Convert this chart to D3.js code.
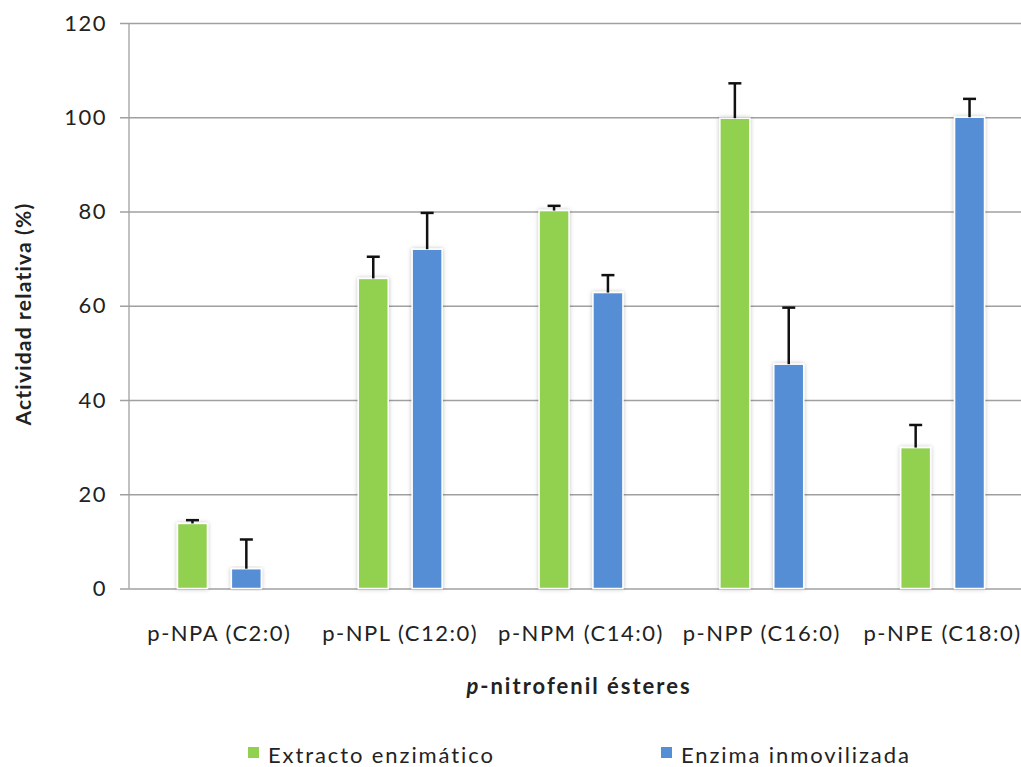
<!DOCTYPE html>
<html>
<head>
<meta charset="utf-8">
<script src="https://cdn.jsdelivr.net/npm/d3@7"></script>
<style>
  body { margin: 0; background: #fff; }
  text { font-family: Lato, "Open Sans", sans-serif; fill: #222; }
</style>
</head>
<body>
<svg id="chart" width="1021" height="767"></svg>
<script>
// data
var categories = ["p-NPA (C2:0)", "p-NPL (C12:0)", "p-NPM (C14:0)", "p-NPP (C16:0)", "p-NPE (C18:0)"];
var seriesNames = ["Extracto enzimático", "Enzima inmovilizada"];
var extracto = [13.8, 65.8, 80.2, 99.8, 29.9];
var extractoErr = [0.7, 4.6, 1.0, 7.4, 4.8];
var inmovilizada = [4.2, 72.0, 62.8, 47.6, 100];
var inmovilizadaErr = [6.2, 7.7, 3.7, 12.0, 3.9];
var yTicks = [0, 20, 40, 60, 80, 100, 120];
var colors = ["#92d050", "#558ed5"];

var svg = d3.select("#chart");
var mLeft = 129, mRight = 1033, mTop = 23, mBottom = 588.5;

var defs = svg.append("defs");
var f = defs.append("filter").attr("id", "shadow")
    .attr("x", "-30%").attr("y", "-10%").attr("width", "160%").attr("height", "120%");
f.append("feDropShadow").attr("dx", 0).attr("dy", 0).attr("stdDeviation", 2)
    .attr("flood-color", "#000").attr("flood-opacity", 0.25);

var y = d3.scaleLinear().domain([0, 120]).range([mBottom, mTop]);
var x0 = d3.scaleBand().domain(categories).range([mLeft, mRight]);
var x1 = d3.scaleBand().domain(seriesNames).range([0, x0.bandwidth()])
    .paddingInner(0.444).paddingOuter(0.9);

// grid + y axis
var yAxis = svg.append("g")
    .attr("transform", "translate(" + mLeft + ",0)")
    .call(d3.axisLeft(y).tickValues(yTicks).tickSize(-(mRight - mLeft)).tickPadding(22));
yAxis.select(".domain").remove();
yAxis.selectAll(".tick line").attr("x1", -9).attr("stroke", "#a0a0a0").attr("stroke-width", 1.3);
yAxis.selectAll(".tick text").style("font-size", "22px").style("letter-spacing", "1.5px").attr("fill", "#222");

svg.append("line").attr("x1", mLeft).attr("x2", mLeft).attr("y1", mTop).attr("y2", mBottom)
    .attr("stroke", "#a0a0a0").attr("stroke-width", 1.3);

var rows = categories.map(function(c, i) {
  return [
    { cat: c, s: seriesNames[0], v: extracto[i], e: extractoErr[i], col: colors[0] },
    { cat: c, s: seriesNames[1], v: inmovilizada[i], e: inmovilizadaErr[i], col: colors[1] }
  ];
});
var flat = [].concat.apply([], rows);

svg.append("g").selectAll("rect").data(flat).enter().append("rect")
    .attr("x", function(d) { return x0(d.cat) + x1(d.s); })
    .attr("y", function(d) { return y(d.v); })
    .attr("width", x1.bandwidth())
    .attr("height", function(d) { return mBottom - y(d.v); })
    .attr("fill", function(d) { return d.col; })
    .attr("stroke", "#fff").attr("stroke-width", 1.5)
    .attr("filter", "url(#shadow)");

// error bars (upper only)
function cx(d) { return x0(d.cat) + x1(d.s) + x1.bandwidth() / 2; }
var eb = svg.append("g").selectAll("g").data(flat).enter().append("g");
eb.append("line")
    .attr("x1", cx).attr("x2", cx)
    .attr("y1", function(d) { return y(d.v); })
    .attr("y2", function(d) { return y(d.v + d.e); })
    .attr("stroke", "#111").attr("stroke-width", 2.5);
eb.append("line")
    .attr("x1", function(d) { return cx(d) - 6.5; })
    .attr("x2", function(d) { return cx(d) + 6.5; })
    .attr("y1", function(d) { return y(d.v + d.e); })
    .attr("y2", function(d) { return y(d.v + d.e); })
    .attr("stroke", "#111").attr("stroke-width", 2.5);

// category labels
svg.append("g").selectAll("text").data(categories).enter().append("text")
    .attr("x", function(d) { return x0(d) + x0.bandwidth() / 2; })
    .attr("y", 641)
    .attr("text-anchor", "middle")
    .style("font-size", "22px").style("letter-spacing", "1.5px")
    .text(function(d) { return d; });

// axis titles
svg.append("text")
    .attr("transform", "translate(31,314) rotate(-90)")
    .attr("text-anchor", "middle")
    .style("font-size", "21px").style("font-weight", "bold").style("letter-spacing", "1.2px")
    .text("Actividad relativa (%)");

var xt = svg.append("text").attr("x", 579).attr("y", 694).attr("text-anchor", "middle")
    .style("font-size", "22px").style("font-weight", "bold").style("letter-spacing", "2px");
xt.append("tspan").style("font-style", "italic").text("p");
xt.append("tspan").text("-nitrofenil ésteres");

// legend
var legX = [248, 661];
var leg = svg.append("g").selectAll("g").data(seriesNames).enter().append("g")
    .attr("transform", function(d, i) { return "translate(" + legX[i] + ",747)"; });
leg.append("rect").attr("width", 11).attr("height", 11)
    .attr("fill", function(d, i) { return colors[i]; });
leg.append("text").attr("x", 20).attr("y", 16)
    .style("font-size", "22px").style("letter-spacing", "1.9px")
    .text(function(d) { return d; });
</script>
</body>
</html>
